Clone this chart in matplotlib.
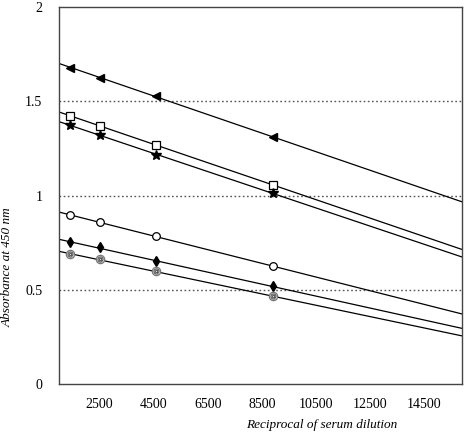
import numpy as np
import matplotlib
matplotlib.use("Agg")
import matplotlib.pyplot as plt

# Daten
dilution = [1400, 2500, 4600, 8900]
abs_triangle = [1.68, 1.627, 1.53, 1.31]
abs_square = [1.424, 1.37, 1.27, 1.056]
abs_star = [1.376, 1.32, 1.216, 1.013]
abs_circle = [0.896, 0.858, 0.784, 0.624]
abs_diamond = [0.752, 0.725, 0.65, 0.517]
abs_ring = [0.688, 0.661, 0.597, 0.464]

x_ticks = [2500, 4500, 6500, 8500, 10500, 12500, 14500]
y_ticks = [0, 0.5, 1, 1.5, 2]

plt.rcParams['font.family'] = ['Liberation Serif', 'DejaVu Serif']

fig = plt.figure(figsize=(4.68, 4.36), dpi=100)
ax = fig.add_axes([0.126, 0.12, 0.861, 0.863])

x_lim = (1000, 15900)
x_line = np.array(x_lim)

series = [
    (abs_triangle, dict(marker='<', mfc='black', mec='black', ms=5.5)),
    (abs_square, dict(marker='s', mfc='white', mec='black', ms=5.5, mew=0.9)),
    (abs_star, dict(marker='*', mfc='black', mec='black', ms=7)),
    (abs_circle, dict(marker='o', mfc='white', mec='black', ms=5.5, mew=0.9)),
    (abs_diamond, dict(marker='d', mfc='black', mec='black', ms=5.5)),
    (abs_ring, dict(marker='o', mfc='#e0e0e0', mec='#777777', ms=6, mew=0.9)),
]

# Horizontale gepunktete Linien
for yv in [0.5, 1, 1.5]:
    ax.axhline(yv, color='#555555', lw=1, ls=(0, (1.2, 1.8)), zorder=1)

for vals, style_kw in series:
    k, d = np.polyfit(dilution, vals, 1)
    ax.plot(x_line, k * x_line + d, color='black', lw=0.9, zorder=2)
    ax.plot(dilution, vals, ls='none', zorder=3, **style_kw)

# "@" in den grauen Kreisen
ax.plot(dilution, abs_ring, ls='none', marker='$@$', color='#555555', ms=4, mew=0.3, zorder=4)

ax.set_xlim(*x_lim)
ax.set_ylim(0, 2)
ax.set_xticks(x_ticks)
ax.set_xticklabels([str(t) for t in x_ticks])
ax.set_yticks(y_ticks)
ax.set_yticklabels(['0', '0.5', '1', '1.5', '2'])
ax.tick_params(length=0, labelsize=10)
ax.tick_params(axis='x', pad=10)
ax.tick_params(axis='y', pad=12)
for s in ax.spines.values():
    s.set_color('#444444')
    s.set_linewidth(1)

ax.set_xlabel('Reciprocal of serum dilution', style='italic', fontsize=9.5)
ax.set_ylabel('Absorbance at 450 nm', style='italic', fontsize=9.5)
ax.xaxis.set_label_coords(0.653, -0.095)
ax.yaxis.set_label_coords(-0.113, 0.31)

plt.savefig('out.png', dpi=100)
